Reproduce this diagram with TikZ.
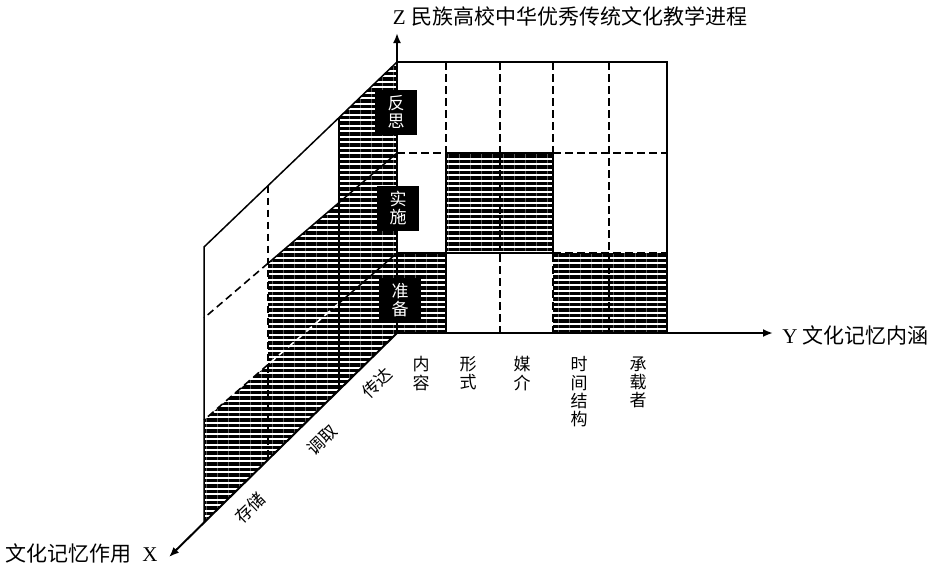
\documentclass[tikz,border=0pt]{standalone}
\usepackage{fontspec}
\setmainfont{Liberation Serif}
\newfontfamily\cjk{Noto Sans CJK SC}
\usetikzlibrary{calc,arrows.meta,patterns.meta}

\begin{document}
\begin{tikzpicture}[x=0.5pt,y=-0.5pt,
  axisline/.style={line width=1pt,-{Latex[length=5pt,width=4pt]}},
  frameline/.style={line width=0.75pt},
  gridline/.style={line width=0.8pt,dash pattern=on 3.75pt off 2.25pt},
  hatch/.style={pattern={Lines[angle=0,distance=2.75pt,line width=1.75pt]}},
  stagebox/.style={fill=black,text=white,inner sep=0pt,minimum width=21pt,
    minimum height=22.5pt,align=center,font=\cjk\fontsize{8.5}{9}\selectfont},
  contentlabel/.style={inner sep=0pt,align=center,font=\cjk\fontsize{8.5}{9.2}\selectfont},
  rolelabel/.style={inner sep=0pt,rotate=44,font=\cjk\fontsize{8.5}{9.2}\selectfont},
  axistitle/.style={inner sep=0pt,font=\fontsize{10.5}{12}\selectfont}]

  \useasboundingbox (0,0) rectangle (935,563);

  % Corners:
  \coordinate (F0) at (397,333);
  \coordinate (F1) at (397,253);
  \coordinate (F2) at (397,153);
  \coordinate (F3) at (397,62);
  \coordinate (B0) at (204,522);
  \coordinate (B1) at (204,420);
  \coordinate (B2) at (204,318);
  \coordinate (B3) at (204,247);
  \coordinate (R3) at (667,62);
  \coordinate (R0) at (667,333);
  \foreach \k in {0,...,3} {
    \coordinate (a\k) at ($(F\k)!0.30!(B\k)$);
    \coordinate (b\k) at ($(F\k)!0.668!(B\k)$);
  }
  \coordinate (Ztip) at (397,33);
  \coordinate (Ytip) at (773,333);
  \coordinate (Xtip) at (169,557);

  % Hatched cells:
  \fill[hatch] (F3) -- (a3) -- (a2) -- (b2) -- (b1) -- (B1) -- (B0) -- (F0) -- cycle;
  \foreach \xa/\ya/\xb/\yb in {397/253/446/333, 446/153/553/253, 553/253/667/333}
    \fill[hatch] (\xa,\ya) rectangle (\xb,\yb);

  % Front grid:
  \foreach \x in {446,500,553,609}
    \draw[gridline] (\x,62) -- (\x,333);
  \foreach \y in {153,253}
    \draw[gridline] (397,\y) -- (667,\y);
  \foreach \xa/\ya/\xb/\yb in {397/253/446/333, 446/153/553/253}
    \draw[frameline] (\xa,\ya) rectangle (\xb,\yb);
  \draw[frameline] (F3) -- (R3) -- (R0);

  % Side grid:
  \draw[frameline] (F3) -- (B3) -- (B0);
  \draw[frameline] (F2) -- (b2);
  \draw[gridline] (b2) -- (B2);
  \draw[frameline] (F1) -- (a1);
  \draw[gridline,white] (a1) -- (b1);
  \draw[gridline] (b1) -- (B1);
  \draw[frameline] (a3) -- (a0);
  \draw[gridline] (b3) -- (b0);

  % Axes:
  \draw[axisline] (F0) -- (Ztip);
  \draw[axisline] (F0) -- (Ytip);
  \draw[axisline] (F0) -- (Xtip);

  % Stages:
  \node[stagebox] (refl) at (396,112) {反\\思};
  \node[stagebox] (impl) at (398,208) {实\\施};
  \node[stagebox] (prep) at (400,300) {准\\备};

  % Labels:
  \node[axistitle] (ztitle) at (570,16) {Z {\cjk 民族高校中华优秀传统文化教学进程}};
  \node[axistitle, anchor=west] (ytitle) at (782,335) {Y {\cjk 文化记忆内涵}};
  \node[axistitle, anchor=west] (xtitle) at (5,553) {{\cjk 文化记忆作用}\hspace{5.5pt}X};

  \node[contentlabel, anchor=north] (cont) at (421,356) {内\\容};
  \node[contentlabel, anchor=north] (form) at (468,356) {形\\式};
  \node[contentlabel, anchor=north] (medi) at (522,356) {媒\\介};
  \node[contentlabel, anchor=north] (time) at (579,356) {时\\间\\结\\构};
  \node[contentlabel, anchor=north] (bear) at (638,356) {承\\载\\者};

  \node[rolelabel] (conv) at (377,383) {传达};
  \node[rolelabel] (retr) at (322,440) {调取};
  \node[rolelabel] (stor) at (250,508) {存储};

\end{tikzpicture}
\end{document}
